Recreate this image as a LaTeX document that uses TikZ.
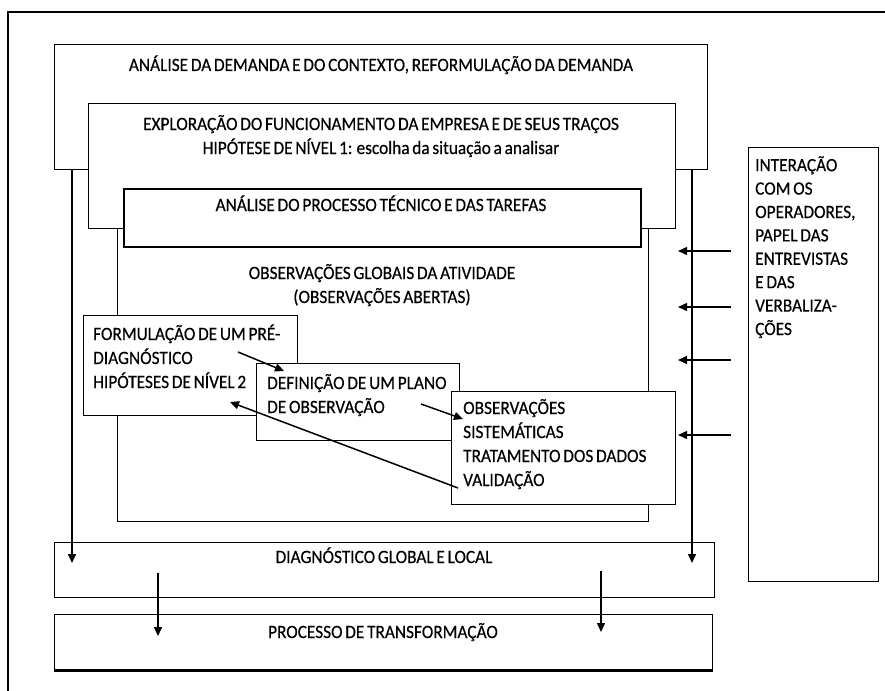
\documentclass[tikz,border=0pt]{standalone}
\usepackage{fontspec}
\setmainfont{Carlito}[WordSpace=0.7,FakeStretch=0.92,FakeBold=0.4]
\usetikzlibrary{arrows.meta}
\tikzset{
  box/.style={draw, fill=white, line width=1.3pt, inner sep=0pt, anchor=north west},
  thickbox/.style={box, line width=2.4pt},
  txt/.style={inner sep=0pt, font=\fontsize{18.8}{24}\selectfont},
  arr/.style={line width=1.5pt, -{Triangle[length=9pt,width=8pt]}},
}
\begin{document}
\begin{tikzpicture}[x=1pt,y=-1pt]
\useasboundingbox (0,0) rectangle (885,690);
% outer frame (open to the right and bottom)
\draw[line width=1.4pt] (890,12) -- (8,12) -- (8,695);
% boxes
\node[box, minimum width=653pt, minimum height=125pt] (b1) at (54,44) {};
\node[box, minimum width=531pt, minimum height=293pt] (big) at (117,228) {};
\node[box, minimum width=587pt, minimum height=125pt] (b2) at (88,103) {};
\node[thickbox, minimum width=517pt, minimum height=58pt] (b3) at (123,188) {};
\node[box, minimum width=214pt, minimum height=100pt] (form) at (83,315) {};
\node[box, minimum width=203pt, minimum height=77pt] (def) at (256,363) {};
\node[box, minimum width=224pt, minimum height=113pt] (obs) at (451,391) {};
\node[box, minimum width=660pt, minimum height=55pt] (diag) at (54,542) {};
\node[box, minimum width=658pt, minimum height=55pt] (proc) at (54,614) {};
\draw[line width=2.6pt] (proc.south west) -- (proc.south east);
\node[box, minimum width=130pt, minimum height=434pt] (inter) at (748,147) {};
% texts (anchor base = baseline of the last line)
\node[txt, anchor=base] (t1) at (381,71) {ANÁLISE DA DEMANDA E DO CONTEXTO, REFORMULAÇÃO DA DEMANDA};
\node[txt, anchor=base, align=center] (t2) at (381,154) {EXPLORAÇÃO DO FUNCIONAMENTO DA EMPRESA E DE SEUS TRAÇOS\\HIPÓTESE DE NÍVEL 1: escolha da situação a analisar};
\node[txt, anchor=base] (t3) at (381,211) {ANÁLISE DO PROCESSO TÉCNICO E DAS TAREFAS};
\node[txt, anchor=base, align=center] (t4) at (382,303) {OBSERVAÇÕES GLOBAIS DA ATIVIDADE\\(OBSERVAÇÕES ABERTAS)};
\node[txt, anchor=base west, align=left] (t5) at (93,388) {FORMULAÇÃO DE UM PRÉ-\\DIAGNÓSTICO\\HIPÓTESES DE NÍVEL 2};
\node[txt, anchor=base west, align=left] (t6) at (267,413) {DEFINIÇÃO DE UM PLANO\\DE OBSERVAÇÃO};
\node[txt, anchor=base west, align=left] (t7) at (463,486) {OBSERVAÇÕES\\SISTEMÁTICAS\\TRATAMENTO DOS DADOS\\VALIDAÇÃO};
\node[txt, anchor=base west, align=left, font=\fontsize{18.8}{23.4}\selectfont] (t8) at (755,335) {INTERAÇÃO\\COM OS\\OPERADORES,\\PAPEL DAS\\ENTREVISTAS\\E DAS\\VERBALIZA-\\ÇÕES};
\node[txt, anchor=base] (t9) at (384,563) {DIAGNÓSTICO GLOBAL E LOCAL};
\node[txt, anchor=base] (t10) at (383,638) {PROCESSO DE TRANSFORMAÇÃO};
% connector end points
\coordinate (l0) at (b1.south west -| 72,0);
\coordinate (l1) at (72,563);
\coordinate (r0) at (b1.south west -| 692,0);
\coordinate (r1) at (692,563);
\coordinate (dl0) at (158,573);
\coordinate (dl1) at (158,636);
\coordinate (dr0) at (601,571);
\coordinate (dr1) at (601,632);
\coordinate (a0) at (238,352);
\coordinate (a1) at (284,371);
\coordinate (c0) at (421,404);
\coordinate (c1) at (463,419);
\coordinate (e0) at (458,488);
\coordinate (e1) at (230,402);
\foreach \yy/\nm in {251/h1,307/h2,360/h3,435/h4}{
  \coordinate (\nm s) at (731,\yy);
  \coordinate (\nm e) at (678,\yy);
}
% connectors
\draw[arr] (l0) -- (l1);
\draw[arr] (r0) -- (r1);
\draw[arr] (dl0) -- (dl1);
\draw[arr] (dr0) -- (dr1);
\draw[arr] (a0) -- (a1);
\draw[arr] (c0) -- (c1);
\draw[arr] (e0) -- (e1);
\draw[arr] (h1s) -- (h1e);
\draw[arr] (h2s) -- (h2e);
\draw[arr] (h3s) -- (h3e);
\draw[arr] (h4s) -- (h4e);
\end{tikzpicture}
\end{document}
